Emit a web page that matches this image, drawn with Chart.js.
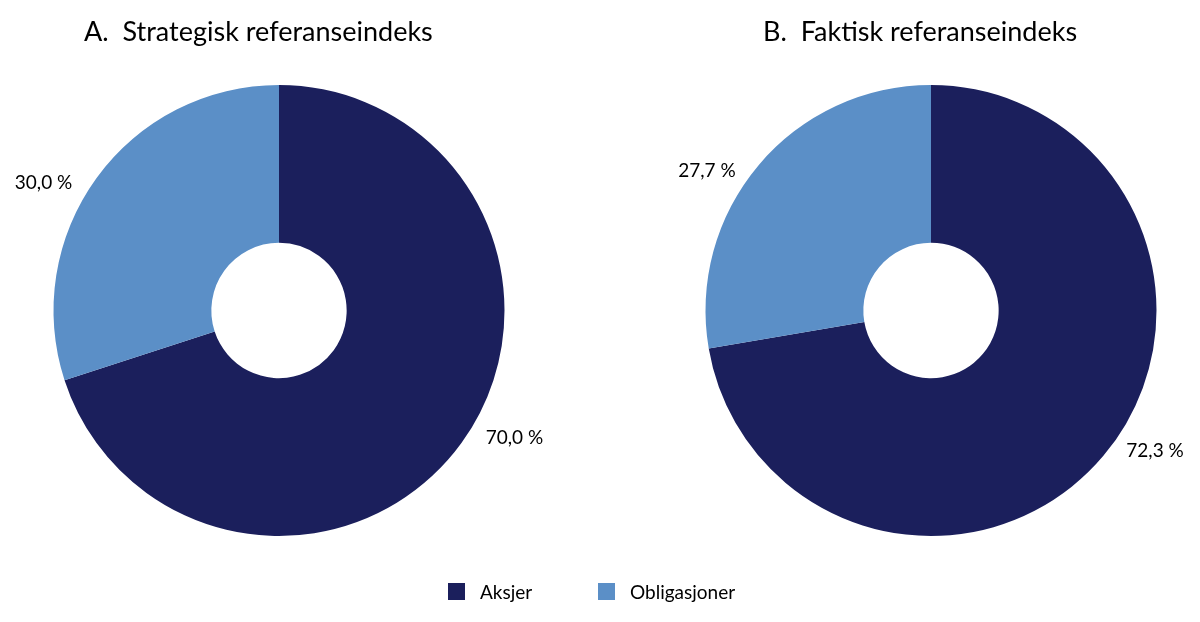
<!DOCTYPE html>
<html><head><meta charset="utf-8">
<script src="https://cdn.jsdelivr.net/npm/chart.js@4/dist/chart.umd.min.js"></script>
<style>
body{margin:0;width:1200px;height:622px;background:#fff;position:relative;overflow:hidden;font-family:Lato,"Open Sans",sans-serif;color:#000}
.c{position:absolute;top:0;width:558px;height:622px}
.t{position:absolute;top:14px;font-size:27px;white-space:nowrap}
.lg{position:absolute;top:580px;font-size:19px;display:flex;align-items:center}
.sq{display:inline-block;width:17px;height:17px;margin-right:15px}
</style></head><body>
<div class="c" style="left:0"><canvas id="a"></canvas></div>
<div class="c" style="left:652px"><canvas id="b"></canvas></div>
<div class="t" style="left:84px">A.&nbsp;&nbsp;Strategisk referanseindeks</div>
<div class="t" style="left:763px">B.&nbsp;&nbsp;Faktisk referanseindeks</div>
<div class="lg" style="left:448px"><span class="sq" style="background:#1b1f5c"></span>Aksjer</div>
<div class="lg" style="left:598px"><span class="sq" style="background:#5b8fc7"></span>Obligasjoner</div>
<script>
const categories=["Aksjer","Obligasjoner"];
const strategisk=[70.0,30.0];
const faktisk=[72.3,27.7];
const colors=["#1b1f5c","#5b8fc7"];
const labelPlugin={id:'lbl',afterDatasetsDraw(chart){
 const ctx=chart.ctx;const meta=chart.getDatasetMeta(0);const data=chart.data.datasets[0].data;
 ctx.save();ctx.font='19px Lato, "Open Sans", sans-serif';ctx.fillStyle='#000';ctx.textBaseline='middle';
 meta.data.forEach((arc,i)=>{const p=arc.getProps(['x','y','startAngle','endAngle','outerRadius'],true);
  const m=(p.startAngle+p.endAngle)/2;const r=p.outerRadius+30;
  const x=p.x+Math.cos(m)*r,y=p.y+Math.sin(m)*r*0.85;
  ctx.textAlign=Math.cos(m)>=0?'left':'right';
  ctx.fillText(data[i].toFixed(1).replace('.',',')+' %',x,y);});
 ctx.restore();}};
function mk(id,vals){new Chart(document.getElementById(id),{type:'doughnut',
 data:{labels:categories,datasets:[{data:vals,backgroundColor:colors,borderWidth:0}]},
 options:{responsive:true,maintainAspectRatio:false,animation:false,cutout:'30%',
  layout:{padding:{top:85,bottom:86,left:0,right:0}},
  plugins:{legend:{display:false},tooltip:{enabled:false}}},plugins:[labelPlugin]});}
mk('a',strategisk);mk('b',faktisk);
</script></body></html>
